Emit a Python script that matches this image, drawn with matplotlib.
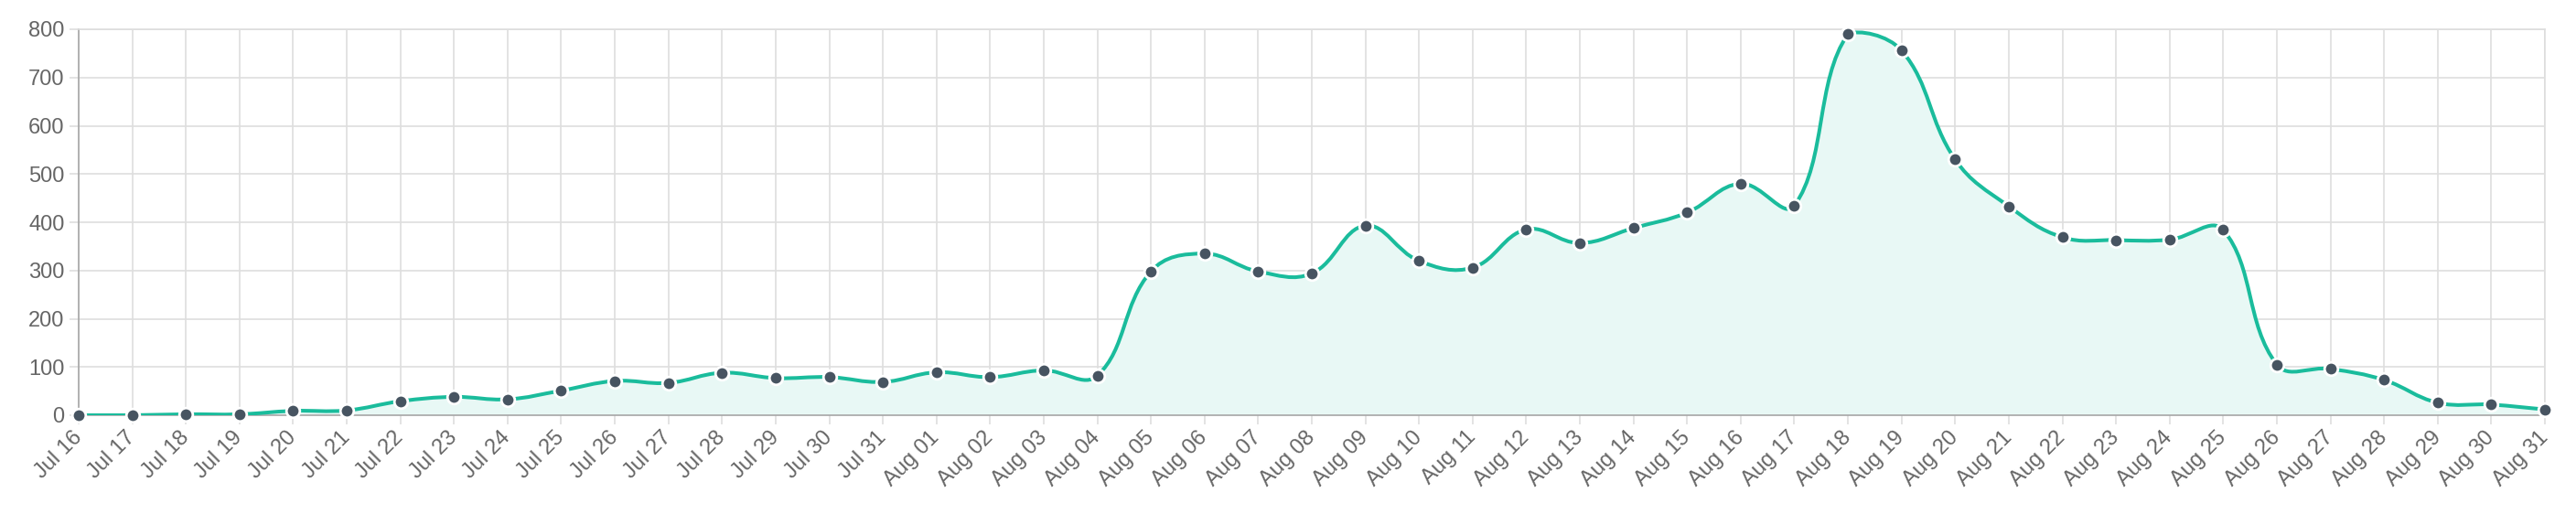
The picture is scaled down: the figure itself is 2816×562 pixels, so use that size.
import numpy as np
import pandas as pd
import matplotlib
matplotlib.use('Agg')
import matplotlib.pyplot as plt
from matplotlib.path import Path
from matplotlib.patches import PathPatch

plt.rcParams['font.family'] = ['Liberation Sans', 'DejaVu Sans']

# daily counts, Jul 16 - Aug 31
dates = pd.date_range('2018-07-16', '2018-08-31', freq='D')
labels = [d.strftime('%b %d') for d in dates]
values = [0, 0, 2, 2, 9, 10, 29, 38, 33, 51, 71,
          67, 88, 77, 79, 69, 89, 79, 93, 82, 298, 335, 298,
          294, 393, 320, 306, 385, 357, 388, 420, 480, 434, 790, 756,
          530, 433, 369, 363, 364, 384, 105, 96, 73, 26, 22, 12]
yticks = [0, 100, 200, 300, 400, 500, 600, 700, 800]

line_color = '#1abc9c'
fill_color = '#e8f8f5'
point_color = '#475461'
grid_color = '#dedede'
text_color = '#666666'


def spline_path(ax, xs, ys, tension=0.4):
    # chart.js style bezier, control points worked out in pixel space
    pts = ax.transData.transform(np.column_stack([xs, ys]))
    n = len(pts)
    cps = []
    for i in range(n):
        prev = pts[max(i - 1, 0)]
        cur = pts[i]
        nxt = pts[min(i + 1, n - 1)]
        d01 = np.hypot(*(cur - prev))
        d12 = np.hypot(*(nxt - cur))
        tot = d01 + d12
        s01 = d01 / tot if tot else 0
        s12 = d12 / tot if tot else 0
        fa = tension * s01
        fb = tension * s12
        cps.append((cur - fa * (nxt - prev), cur + fb * (nxt - prev)))
    inv = ax.transData.inverted()
    y0, y1 = ax.get_ylim()
    verts = [tuple(inv.transform(pts[0]))]
    codes = [Path.MOVETO]
    for i in range(n - 1):
        c1 = inv.transform(cps[i][1])
        c2 = inv.transform(cps[i + 1][0])
        c1[1] = min(max(c1[1], y0), y1)
        c2[1] = min(max(c2[1], y0), y1)
        verts += [tuple(c1), tuple(c2), tuple(inv.transform(pts[i + 1]))]
        codes += [Path.CURVE4] * 3
    return verts, codes


W, H = 2816, 562
fig = plt.figure(figsize=(W / 100, H / 100), dpi=100)
ax = fig.add_axes([86 / W, 1 - 454 / H, (2782 - 86) / W, (454 - 32) / H])

x = np.arange(len(values))
ax.set_xlim(0, len(values) - 1)
ax.set_ylim(0, 800)

verts, codes = spline_path(ax, x, values)
fill_verts = verts + [(x[-1], 0), (x[0], 0), (x[0], 0)]
fill_codes = codes + [Path.LINETO, Path.LINETO, Path.CLOSEPOLY]
ax.add_patch(PathPatch(Path(fill_verts, fill_codes), facecolor=fill_color,
                       edgecolor='none', zorder=1))
ax.add_patch(PathPatch(Path(verts, codes), facecolor='none',
                       edgecolor=line_color, lw=2.9, zorder=3))
ax.plot(x, values, 'o', ms=10.5, mfc=point_color, mec='white', mew=2,
        zorder=4, clip_on=False)

ax.set_xticks(x)
ax.set_xticklabels(labels, rotation=45, ha='right', va='center',
                   rotation_mode='anchor')
ax.set_yticks(yticks)
ax.grid(True, color=grid_color, lw=1.2, zorder=0)
ax.set_axisbelow(True)

ax.tick_params(axis='x', length=7, width=1.2, color=grid_color,
               labelsize=17, labelcolor=text_color, pad=8)
ax.tick_params(axis='y', length=7, width=1.2, color=grid_color,
               labelsize=17, labelcolor=text_color, pad=4)

for side in ['top', 'right']:
    ax.spines[side].set_color(grid_color)
    ax.spines[side].set_linewidth(1.2)
ax.spines['left'].set_color('#a6a6a6')
ax.spines['left'].set_linewidth(1.2)
ax.spines['bottom'].set_color('#a6a6a6')
ax.spines['bottom'].set_linewidth(1.2)

fig.savefig('out.png', dpi=100, facecolor='white')
